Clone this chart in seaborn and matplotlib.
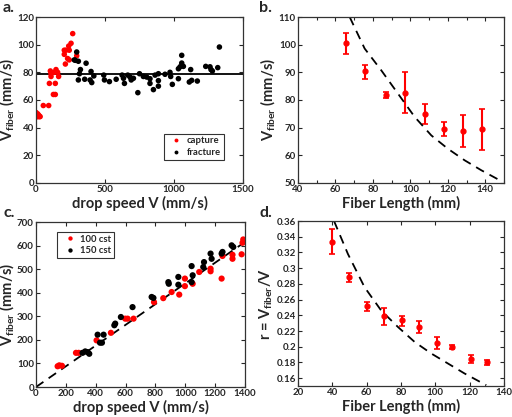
import numpy as np
import pandas as pd
import matplotlib
matplotlib.use('Agg')
import matplotlib.pyplot as plt
from matplotlib.ticker import MultipleLocator, FuncFormatter
import seaborn as sns

sns.set_style('ticks')
plt.rcParams['font.family'] = ['Lato', 'DejaVu Sans']
plt.rcParams['font.weight'] = 'bold'
plt.rcParams['axes.labelweight'] = 'bold'
plt.rcParams['mathtext.fontset'] = 'custom'
plt.rcParams['mathtext.bf'] = 'Lato:bold'
plt.rcParams['mathtext.rm'] = 'Lato:bold'
plt.rcParams['mathtext.default'] = 'bf'
plt.rcParams['xtick.direction'] = 'in'
plt.rcParams['ytick.direction'] = 'in'
plt.rcParams['xtick.top'] = True
plt.rcParams['ytick.right'] = True
plt.rcParams['axes.edgecolor'] = '#333333'

# panel a: capture / fracture
cap_x = [0, 5, 8, 12, 15, 20, 25, 30, 53, 92, 97, 104, 109, 109, 126, 133, 140, 140, 145, 157,
         164, 205, 205, 213, 217, 229, 237, 241, 241, 254, 266, 295]
cap_y = [51, 49, 48, 50, 48, 49, 48, 48, 56, 56, 72, 81, 79, 77, 64, 80, 64, 72, 82, 80,
         77, 96, 93, 86, 96, 90, 99, 89, 96, 101, 108, 92]
frac_x = [278, 285, 295, 307, 307, 315, 322, 353, 363, 392, 399, 404, 419, 491, 496, 532, 581, 624, 634, 641,
          665, 682, 690, 706, 738, 750, 778, 802, 826, 826, 851, 863, 887, 887, 887, 935, 971, 976, 988, 1032,
          1032, 1044, 1056, 1056, 1068, 1111, 1121, 1128, 1169, 1230, 1261, 1268, 1278, 1317, 1329]
frac_y = [89, 88.7, 94.7, 88, 74.5, 79, 82, 75, 86.6, 74.5, 80.6, 72.6, 77.4, 78, 74.5, 73.3, 75, 78, 75.7, 72,
          78, 76.5, 74.5, 75.7, 65.3, 79, 77, 76.6, 75.4, 72, 67.5, 78, 74, 70, 79, 78.6, 80, 77, 71.3, 82.6,
          75.4, 84, 86.7, 92.3, 84.3, 73, 82, 74.2, 73.7, 84.3, 84, 82, 81, 83.4, 98.3]
v_mean = 78.7

# panel b: fiber length vs V_fiber
b_len = [65.8, 75.9, 87.2, 97.3, 107.6, 117.9, 128.1, 138.4]
b_v = [100.6, 90.4, 81.7, 82.6, 75.1, 69.4, 68.8, 69.4]
b_lo = [96.7, 87.7, 80.7, 75.3, 71.4, 66.9, 63.0, 62.0]
b_hi = [104.3, 92.8, 82.8, 90.1, 78.7, 72.2, 74.6, 76.6]
b_fit_x = [67.6, 75.6, 84.5, 93.4, 102.3, 111.2, 120, 129, 137.9, 148.5]
b_fit_y = [110, 98.6, 90.7, 82.3, 73.9, 67.2, 62.4, 58.2, 54.6, 50.7]

# panel c: 100 cst / 150 cst
c100_x = [145, 156, 174, 268, 286, 406, 502, 598, 614, 654, 791, 853, 909, 960, 998, 998, 1050, 1094, 1170, 1170,
          1244, 1250, 1317, 1317, 1378, 1384, 1389]
c100_y = [88, 92, 90, 145, 145, 198, 230, 290, 290, 290, 360, 377, 403, 392, 460, 428, 438, 488, 502, 491,
          460, 556, 561, 544, 563, 612, 626]
c150_x = [312, 330, 346, 357, 413, 453, 429, 442, 525, 531, 569, 647, 775, 787, 887, 890, 954, 954, 1043, 1050,
          1043, 1126, 1121, 1170, 1177, 1250, 1244, 1311, 1322]
c150_y = [145, 151, 148, 141, 222, 222, 188, 188, 262, 269, 297, 339, 382, 378, 445, 438, 467, 434, 513, 474,
          445, 530, 509, 566, 544, 573, 566, 601, 594]
c_fit_x = [0, 1400]
c_fit_y = [0, 615]

# panel d: ratio r
d_len = [40.0, 49.7, 60.4, 70.1, 80.6, 90.7, 100.8, 109.9, 121.0, 130.1]
d_r = [0.3334, 0.2883, 0.2512, 0.2385, 0.2335, 0.2250, 0.2048, 0.1997, 0.1846, 0.1803]
d_lo = [0.3178, 0.2828, 0.2461, 0.2280, 0.2267, 0.2174, 0.1976, 0.1972, 0.1795, 0.1770]
d_hi = [0.3495, 0.2938, 0.2567, 0.2495, 0.2394, 0.2326, 0.2124, 0.2018, 0.1892, 0.1833]
d_fit_x = [41, 49.1, 58.8, 68.5, 78.3, 88, 97.7, 107.4, 117, 129.7]
d_fit_y = [0.36, 0.318, 0.2757, 0.246, 0.225, 0.206, 0.1913, 0.1786, 0.166, 0.151]

df_a = pd.DataFrame({'x': cap_x + frac_x, 'y': cap_y + frac_y,
                     'kind': ['capture'] * len(cap_x) + ['fracture'] * len(frac_x)})
df_c = pd.DataFrame({'x': c100_x + c150_x, 'y': c100_y + c150_y,
                     'kind': ['100 cst'] * len(c100_x) + ['150 cst'] * len(c150_x)})

fig = plt.figure(figsize=(5.12, 4.17), dpi=100)
ax1 = fig.add_axes([0.0703, 0.5612, 0.4043, 0.398])
ax2 = fig.add_axes([0.582, 0.5612, 0.4023, 0.398])
ax3 = fig.add_axes([0.0703, 0.0719, 0.408, 0.3957])
ax4 = fig.add_axes([0.582, 0.0743, 0.4023, 0.3957])

tick_fs = 7
lab_fs = 10.5
dash = (0, (5, 3.5))

# a
ax1.axhline(v_mean, color='black', lw=1.3, zorder=1)
sns.scatterplot(data=df_a, x='x', y='y', hue='kind', palette={'capture': 'red', 'fracture': 'black'},
                s=16, linewidth=0, ax=ax1, zorder=2)
ax1.set_xlim(0, 1500)
ax1.set_ylim(0, 120)
ax1.xaxis.set_major_locator(MultipleLocator(500))
ax1.yaxis.set_major_locator(MultipleLocator(20))
ax1.set_xlabel('drop speed V (mm/s)', fontsize=lab_fs, labelpad=1)
ax1.set_ylabel(r'V$_{fiber}$ (mm/s)', fontsize=lab_fs, labelpad=1)
leg = ax1.legend(loc='lower right', fontsize=6.8, frameon=True, fancybox=False, edgecolor='black',
                 handletextpad=0.1, borderpad=0.3, labelspacing=0.3, markerscale=0.7,
                 bbox_to_anchor=(0.93, 0.11))
leg.get_frame().set_linewidth(0.8)

# b
ax2.errorbar(b_len, b_v, yerr=[np.array(b_v) - np.array(b_lo), np.array(b_hi) - np.array(b_v)],
             fmt='o', color='red', ms=3.5, capsize=2.5, elinewidth=1.5, capthick=1.2)
sns.lineplot(x=b_fit_x, y=b_fit_y, color='black', lw=1.3, linestyle=dash, ax=ax2)
ax2.set_xlim(40, 150)
ax2.set_ylim(50, 110)
ax2.xaxis.set_major_locator(MultipleLocator(20))
ax2.xaxis.set_minor_locator(MultipleLocator(10))
ax2.yaxis.set_major_locator(MultipleLocator(10))
ax2.set_xlabel('Fiber Length (mm)', fontsize=lab_fs, labelpad=1)
ax2.set_ylabel(r'V$_{fiber}$ (mm/s)', fontsize=lab_fs, labelpad=1)

# c
sns.lineplot(x=c_fit_x, y=c_fit_y, color='black', lw=1.3, linestyle=dash, ax=ax3, zorder=1)
sns.scatterplot(data=df_c, x='x', y='y', hue='kind', palette={'100 cst': 'red', '150 cst': 'black'},
                s=20, linewidth=0, ax=ax3, zorder=2)
ax3.set_xlim(0, 1400)
ax3.set_ylim(0, 700)
ax3.xaxis.set_major_locator(MultipleLocator(200))
ax3.yaxis.set_major_locator(MultipleLocator(100))
ax3.set_xlabel('drop speed V (mm/s)', fontsize=lab_fs, labelpad=1)
ax3.set_ylabel(r'V$_{fiber}$ (mm/s)', fontsize=lab_fs, labelpad=1)
leg = ax3.legend(loc='upper left', fontsize=6.8, frameon=True, fancybox=False, edgecolor='black',
                 handletextpad=0.1, borderpad=0.3, labelspacing=0.3, markerscale=0.7,
                 bbox_to_anchor=(0.08, 0.97))
leg.get_frame().set_linewidth(0.8)

# d
ax4.errorbar(d_len, d_r, yerr=[np.array(d_r) - np.array(d_lo), np.array(d_hi) - np.array(d_r)],
             fmt='o', color='red', ms=3.5, capsize=2.5, elinewidth=1.5, capthick=1.2)
sns.lineplot(x=d_fit_x, y=d_fit_y, color='black', lw=1.3, linestyle=dash, ax=ax4)
ax4.set_xlim(20, 140)
ax4.set_ylim(0.15, 0.36)
ax4.xaxis.set_major_locator(MultipleLocator(20))
ax4.set_yticks(np.arange(0.16, 0.361, 0.02))
ax4.yaxis.set_major_formatter(FuncFormatter(lambda v, p: '%g' % round(v, 2)))
ax4.set_xlabel('Fiber Length (mm)', fontsize=lab_fs, labelpad=1)
ax4.set_ylabel(r'r = V$_{fiber}$/V', fontsize=lab_fs, labelpad=1)

for ax in [ax1, ax2, ax3, ax4]:
    ax.tick_params(which='both', labelsize=tick_fs, length=3, width=0.8, pad=1.5)
    ax.tick_params(which='minor', length=2)
    for t in ax.get_xticklabels() + ax.get_yticklabels():
        t.set_fontweight('bold')
    for sp in ax.spines.values():
        sp.set_linewidth(0.9)

fig.text(0.006, 0.997, 'a.', fontsize=11.5, fontweight='bold', va='top')
fig.text(0.506, 0.997, 'b.', fontsize=11.5, fontweight='bold', va='top')
fig.text(0.006, 0.506, 'c.', fontsize=11.5, fontweight='bold', va='top')
fig.text(0.506, 0.506, 'd.', fontsize=11.5, fontweight='bold', va='top')

fig.savefig('out.png', dpi=100)
